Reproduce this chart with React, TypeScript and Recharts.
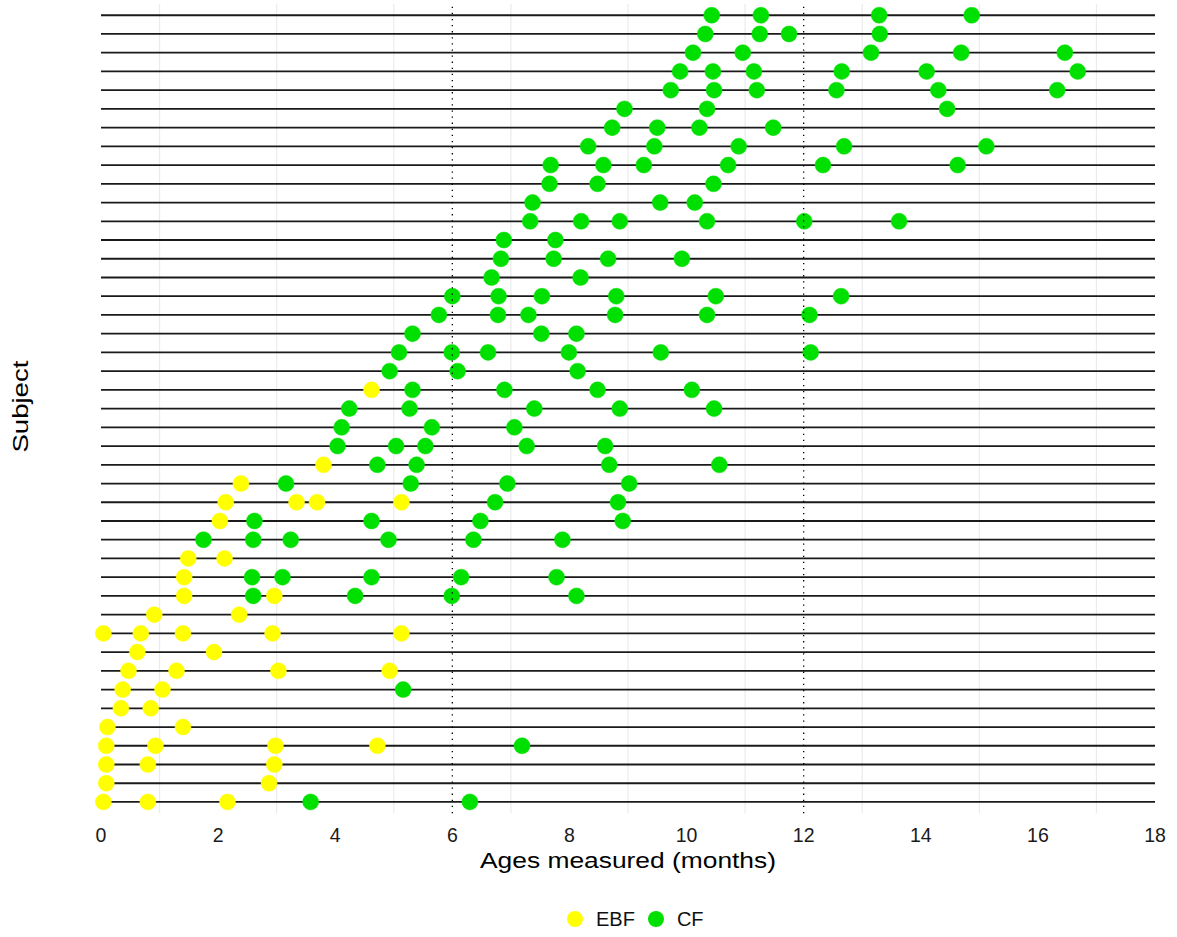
import React from 'react';
import { ComposedChart, Scatter, XAxis, YAxis, ReferenceLine, Legend } from 'recharts';

const FONT = '"Liberation Sans", Arial, Helvetica, sans-serif';

// Ages (months) per subject, listed from the bottom subject (1) to the top subject (43)
const ebfAges: number[][] = [
  [0.04, 0.80, 2.16],            // 1
  [0.09, 2.87],                  // 2
  [0.09, 0.80, 2.96],            // 3
  [0.09, 0.93, 2.98, 4.72],      // 4
  [0.11, 1.40],                  // 5
  [0.34, 0.85],                  // 6
  [0.37, 1.05],                  // 7
  [0.47, 1.29, 3.03, 4.93],      // 8
  [0.62, 1.93],                  // 9
  [0.04, 0.68, 1.40, 2.93, 5.13],// 10
  [0.91, 2.36],                  // 11
  [1.42, 2.96],                  // 12
  [1.42],                        // 13
  [1.49, 2.11],                  // 14
  [],                            // 15
  [2.03],                        // 16
  [2.13, 3.34, 3.69, 5.13],      // 17
  [2.39],                        // 18
  [3.80],                        // 19
  [],                            // 20
  [],                            // 21
  [],                            // 22
  [4.62],                        // 23
  [], [], [], [], [], [], [], [], [], [], [], [], [], [], [], [], [], [], [], [] // 24-43
];

const cfAges: number[][] = [
  [3.58, 6.30],                          // 1
  [],                                    // 2
  [],                                    // 3
  [7.19],                                // 4
  [],                                    // 5
  [],                                    // 6
  [5.16],                                // 7
  [],                                    // 8
  [],                                    // 9
  [],                                    // 10
  [],                                    // 11
  [2.60, 4.34, 5.99, 8.12],              // 12
  [2.58, 3.10, 4.62, 6.15, 7.78],        // 13
  [],                                    // 14
  [1.75, 2.60, 3.24, 4.91, 6.36, 7.88],  // 15
  [2.62, 4.62, 6.48, 8.91],              // 16
  [6.73, 8.83],                          // 17
  [3.16, 5.29, 6.94, 9.02],              // 18
  [4.72, 5.39, 8.68, 10.56],             // 19
  [4.04, 5.04, 5.54, 7.27, 8.61],        // 20
  [4.11, 5.65, 7.06],                    // 21
  [4.24, 5.27, 7.40, 8.86, 10.47],       // 22
  [5.32, 6.89, 8.48, 10.09],             // 23
  [4.93, 6.09, 8.14],                    // 24
  [5.09, 5.99, 6.61, 7.99, 9.56, 12.12], // 25
  [5.32, 7.52, 8.12],                    // 26
  [5.77, 6.78, 7.30, 8.78, 10.35, 12.10],// 27
  [6.00, 6.79, 7.53, 8.80, 10.50, 12.64],// 28
  [6.67, 8.19],                          // 29
  [6.83, 7.73, 8.66, 9.92],              // 30
  [6.88, 7.76],                          // 31
  [7.33, 8.20, 8.86, 10.35, 12.01, 13.63],// 32
  [7.37, 9.55, 10.14],                   // 33
  [7.66, 8.48, 10.46],                   // 34
  [7.68, 8.58, 9.27, 10.71, 12.33, 14.63],// 35
  [8.32, 9.45, 10.89, 12.69, 15.12],     // 36
  [8.73, 9.50, 10.22, 11.48],            // 37
  [8.94, 10.35, 14.45],                  // 38
  [9.73, 10.47, 11.20, 12.56, 14.30, 16.33], // 39
  [9.89, 10.45, 11.15, 12.65, 14.10, 16.68], // 40
  [10.11, 10.96, 13.15, 14.69, 16.46],   // 41
  [10.32, 11.25, 11.75, 13.30],          // 42
  [10.43, 11.27, 13.29, 14.87],          // 43
];

const xTicks = [0, 2, 4, 6, 8, 10, 12, 14, 16, 18];
const minorMonths = [1, 3, 5, 7, 9, 11, 13, 15, 17];
const cutoffMonths = [6, 12];
const seriesNames = ['EBF', 'CF'];
const seriesColors = ['#ffff00', '#00e000'];

const subjects = cfAges.map((_, i) => i + 1);
const ebfPoints = ebfAges.flatMap((ages, i) => ages.map((age) => ({ age, subject: i + 1 })));
const cfPoints = cfAges.flatMap((ages, i) => ages.map((age) => ({ age, subject: i + 1 })));

const makeDot = (color: string) => (props: any) => {
  const { cx, cy } = props;
  if (cx == null || cy == null) return <g />;
  return <circle cx={cx} cy={cy} r={8} fill={color} stroke={color} strokeWidth={0.5} />;
};

const XTick = (props: any) => {
  const { x, y, payload } = props;
  return (
    <text x={x} y={y} dy="0.71em" textAnchor="middle" fontSize={19.5} fill="#1a1a1a" fontFamily={FONT}>
      {payload.value}
    </text>
  );
};

const XTitle = (props: any) => {
  const vb = props.viewBox || {};
  return (
    <text
      x={vb.x + vb.width / 2}
      y={vb.y + 55}
      textAnchor="middle"
      fontSize={22}
      fill="#000"
      fontFamily={FONT}
      textLength={296}
      lengthAdjust="spacingAndGlyphs"
    >
      Ages measured (months)
    </text>
  );
};

const YTitle = (props: any) => {
  const vb = props.viewBox || {};
  const cy = vb.y + vb.height / 2 - 2;
  return (
    <text
      transform={`translate(28, ${cy}) rotate(-90)`}
      textAnchor="middle"
      fontSize={22}
      fill="#000"
      fontFamily={FONT}
      textLength={92}
      lengthAdjust="spacingAndGlyphs"
    >
      Subject
    </text>
  );
};

const renderLegend = (props: any) => {
  const payload = [...(props.payload || [])].sort(
    (a: any, b: any) => seriesNames.indexOf(a.value) - seriesNames.indexOf(b.value)
  );
  return (
    <div style={{ display: 'flex', alignItems: 'center', fontFamily: FONT, fontSize: 20, color: '#111', lineHeight: '23px' }}>
      {payload.map((entry: any, i: number) => (
        <div key={i} style={{ display: 'flex', alignItems: 'center', marginRight: 13 }}>
          <svg width={16} height={16} style={{ display: 'block' }}>
            <circle cx={8} cy={8} r={8} fill={entry.color} />
          </svg>
          <span style={{ marginLeft: 13 }}>{entry.value}</span>
        </div>
      ))}
    </div>
  );
};

export default function App() {
  return (
    <div style={{ position: 'absolute', left: 0, top: 0, background: '#fff' }}>
      <ComposedChart width={1177} height={937} margin={{ top: 4, right: 22, bottom: 63.8, left: 0 }}>
        <XAxis
          type="number"
          dataKey="age"
          domain={[0, 18]}
          ticks={xTicks}
          tickLine={false}
          axisLine={false}
          height={60}
          tickMargin={9}
          tick={<XTick />}
          label={<XTitle />}
        />
        <YAxis
          type="number"
          dataKey="subject"
          domain={[0.4, 43.6]}
          tick={false}
          tickLine={false}
          axisLine={false}
          width={101}
          label={<YTitle />}
        />
        {minorMonths.map((m) => (
          <ReferenceLine key={`g${m}`} x={m} stroke="#ebebeb" strokeWidth={1.2} zIndex={-100} />
        ))}
        {subjects.map((s) => (
          <ReferenceLine key={`s${s}`} y={s} stroke="#1a1a1a" strokeWidth={1.8} zIndex={-50} />
        ))}
        <Scatter
          name={seriesNames[0]}
          data={ebfPoints}
          fill={seriesColors[0]}
          shape={makeDot(seriesColors[0])}
          isAnimationActive={false}
          zIndex={600}
        />
        <Scatter
          name={seriesNames[1]}
          data={cfPoints}
          fill={seriesColors[1]}
          shape={makeDot(seriesColors[1])}
          isAnimationActive={false}
          zIndex={600}
        />
        {cutoffMonths.map((m) => (
          <ReferenceLine key={`c${m}`} x={m} stroke="#000" strokeWidth={1.3} strokeDasharray="1.3 4.8" zIndex={700} />
        ))}
        <Legend
          verticalAlign="middle"
          align="center"
          layout="horizontal"
          itemSorter={null as any}
          wrapperStyle={{ top: 907.5, left: 567, width: 200 }}
          content={renderLegend}
        />
      </ComposedChart>
    </div>
  );
}
